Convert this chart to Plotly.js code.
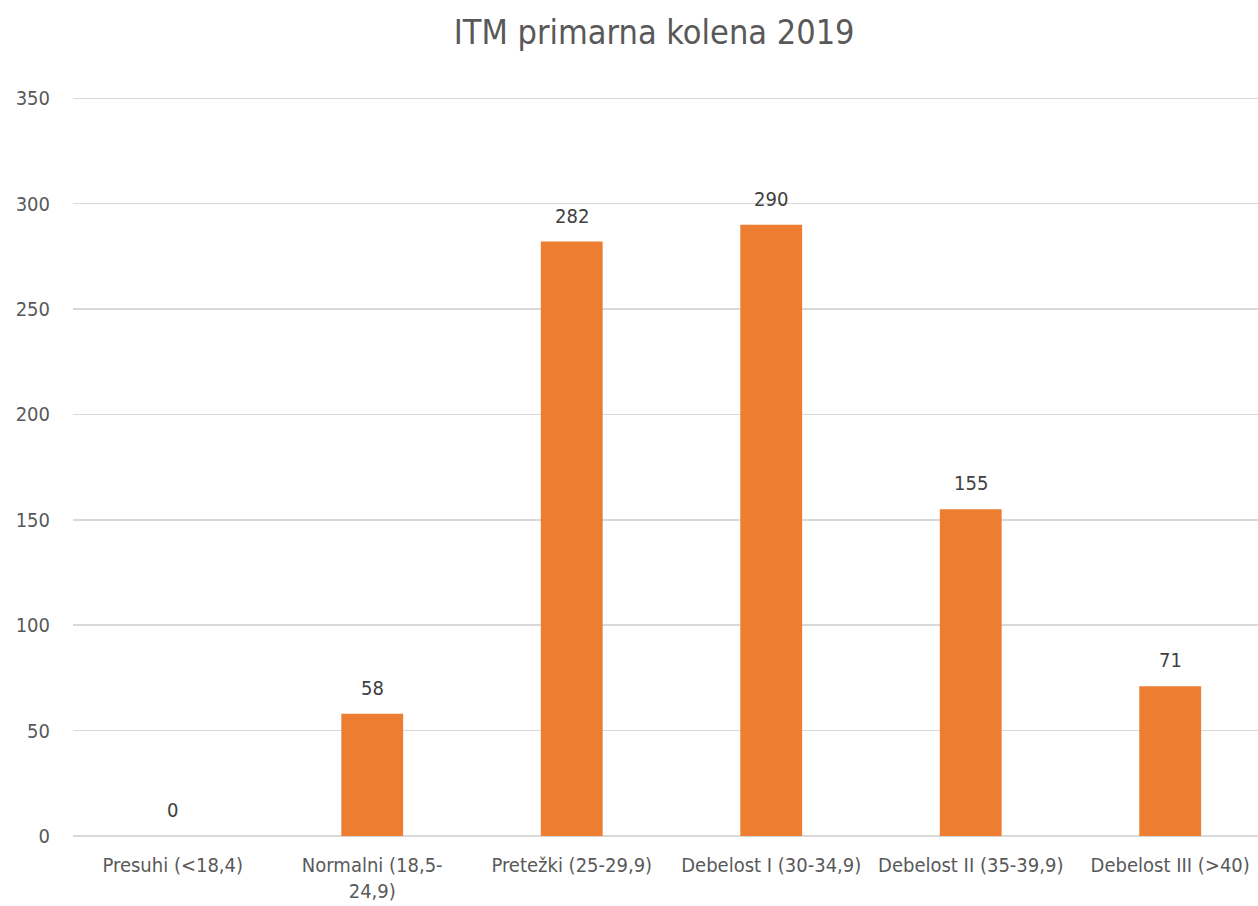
<!DOCTYPE html>
<html>
<head>
<meta charset="utf-8">
<script src="https://cdn.plot.ly/plotly-3.0.1.min.js"></script>
<style>html,body{margin:0;padding:0;background:#fff;}#chart{width:1258px;height:906px;}</style>
</head>
<body>
<div id="chart"></div>
<script>
const categories = ["Presuhi (<18,4)", "Normalni (18,5-<br>24,9)", "Pretežki (25-29,9)", "Debelost I (30-34,9)", "Debelost II (35-39,9)", "Debelost III (>40)"];
const values = [0, 58, 282, 290, 155, 71];
const yTicks = [0, 50, 100, 150, 200, 250, 300, 350];
const titleText = "ITM primarna kolena 2019";

const FONT = "'Liberation Sans Narrow', 'DejaVu Sans Condensed', 'Open Sans', sans-serif";

const trace = {
  type: "bar",
  x: categories,
  y: values,
  marker: {color: "#ED7D31"},
  hoverinfo: "skip"
};

const annotations = values.map((v, i) => ({
  x: categories[i], y: v, xref: "x", yref: "y",
  text: String(v), showarrow: false, yshift: 26,
  font: {family: FONT, size: 20, color: "#404040"}
}));

const layout = {
  width: 1258, height: 906,
  margin: {l: 73, r: 0, t: 97, b: 70},
  paper_bgcolor: "#fff", plot_bgcolor: "#fff",
  title: {text: titleText, x: 0.52, xanchor: "center", y: 0.965, yanchor: "middle",
          font: {family: FONT, size: 34, color: "#595959"}},
  bargap: 0.69,
  showlegend: false,
  xaxis: {
    type: "category",
    range: [-0.5, 5.44],
    tickfont: {family: FONT, size: 20, color: "#595959"},
    showgrid: false, zeroline: false, showline: false, ticks: "",
    ticklabelstandoff: 15,
    fixedrange: true
  },
  yaxis: {
    range: [0, 350.6],
    tickvals: yTicks,
    tickfont: {family: FONT, size: 20, color: "#595959"},
    gridcolor: "#d9d9d9", gridwidth: 1.5,
    zeroline: true, zerolinecolor: "#d9d9d9", zerolinewidth: 1.5,
    showline: false, ticks: "",
    ticklabelstandoff: 22,
    fixedrange: true
  },
  annotations: annotations
};

Plotly.newPlot("chart", [trace], layout, {displayModeBar: false, staticPlot: true});
</script>
</body>
</html>
